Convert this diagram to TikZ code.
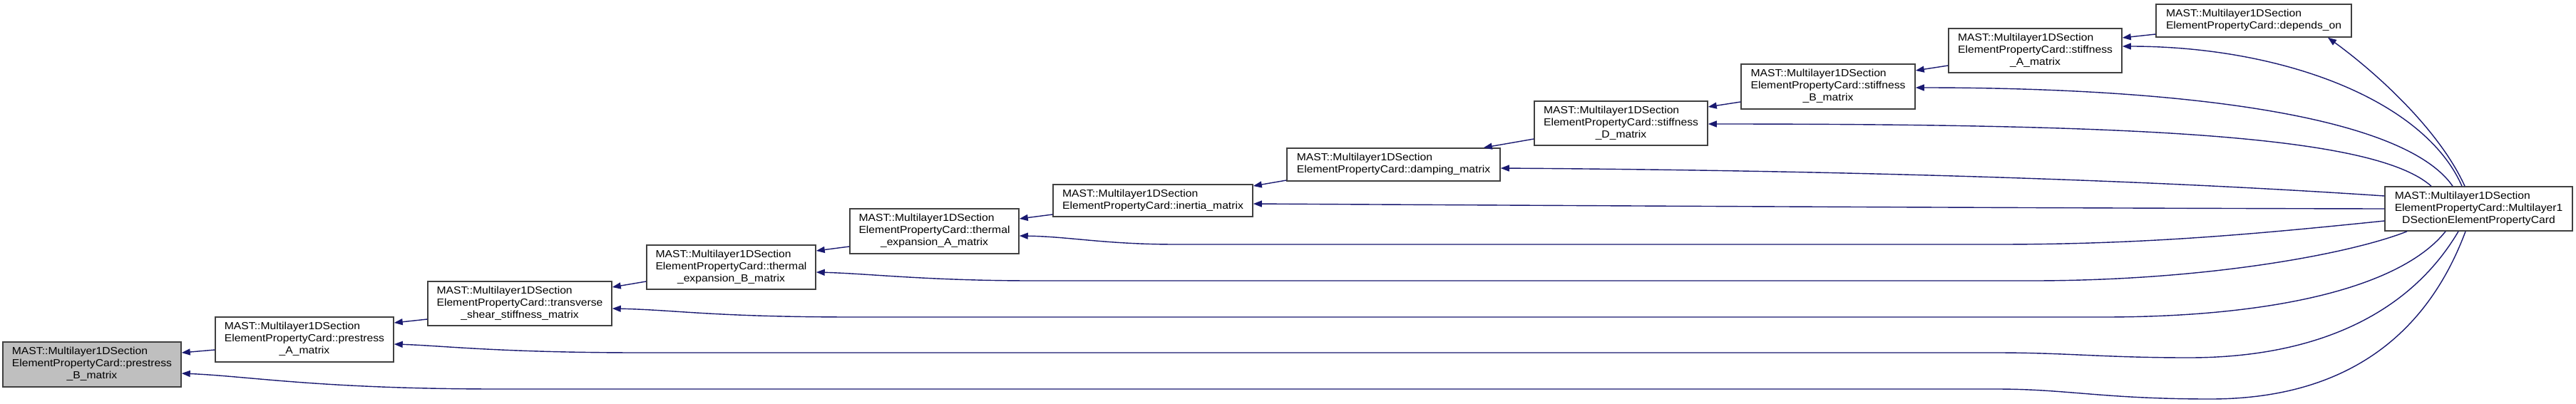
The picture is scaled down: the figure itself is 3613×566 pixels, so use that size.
\documentclass[tikz,border=0pt]{standalone}
\usepackage{fontspec}
\setmainfont{Liberation Sans}[FakeStretch=1.09]
\usetikzlibrary{arrows.meta,calc}
\definecolor{edgeblue}{HTML}{191970}
\definecolor{nodegray}{HTML}{BFBFBF}
\newcommand{\Lthree}[3]{\begin{tabular}{@{}l@{}}#1\\#2\\\multicolumn{1}{@{}c@{}}{#3}\end{tabular}}
\newcommand{\Ltwo}[2]{\begin{tabular}{@{}l@{}}#1\\#2\end{tabular}}
\begin{document}
\begin{tikzpicture}[x=1pt,y=-1pt,
  font=\fontsize{14.4}{17}\selectfont,
  box/.style={draw=black!75, line width=1.5pt, fill=white, inner sep=0pt},
  calledge/.style={draw=edgeblue, line width=1.4pt, -{Triangle[length=12pt,width=9pt]}}]
\useasboundingbox (0,0) rectangle (3613,566);

\node[box, fill=nodegray, minimum width=250pt, minimum height=63pt] (pB) at (129,511.5)
  {\Lthree{MAST::Multilayer1DSection}{ElementPropertyCard::prestress}{\_B\_matrix}};
\node[box, minimum width=250pt, minimum height=63pt] (pA) at (427,476.5)
  {\Lthree{MAST::Multilayer1DSection}{ElementPropertyCard::prestress}{\_A\_matrix}};
\node[box, minimum width=258pt, minimum height=62pt] (tr) at (729,426)
  {\Lthree{MAST::Multilayer1DSection}{ElementPropertyCard::transverse}{\_shear\_stiffness\_matrix}};
\node[box, minimum width=237pt, minimum height=62pt] (tB) at (1025.5,375)
  {\Lthree{MAST::Multilayer1DSection}{ElementPropertyCard::thermal}{\_expansion\_B\_matrix}};
\node[box, minimum width=237pt, minimum height=63pt] (tA) at (1310.5,324.5)
  {\Lthree{MAST::Multilayer1DSection}{ElementPropertyCard::thermal}{\_expansion\_A\_matrix}};
\node[box, minimum width=280pt, minimum height=45pt] (in) at (1617,281.5)
  {\Ltwo{MAST::Multilayer1DSection}{ElementPropertyCard::inertia\_matrix}};
\node[box, minimum width=299pt, minimum height=46pt] (da) at (1954.5,231)
  {\Ltwo{MAST::Multilayer1DSection}{ElementPropertyCard::damping\_matrix}};
\node[box, minimum width=243pt, minimum height=62pt] (sD) at (2273.5,173)
  {\Lthree{MAST::Multilayer1DSection}{ElementPropertyCard::stiffness}{\_D\_matrix}};
\node[box, minimum width=244pt, minimum height=63pt] (sB) at (2564,121.5)
  {\Lthree{MAST::Multilayer1DSection}{ElementPropertyCard::stiffness}{\_B\_matrix}};
\node[box, minimum width=243pt, minimum height=62pt] (sA) at (2854.5,71)
  {\Lthree{MAST::Multilayer1DSection}{ElementPropertyCard::stiffness}{\_A\_matrix}};
\node[box, minimum width=274pt, minimum height=46pt] (dep) at (3161,29)
  {\Ltwo{MAST::Multilayer1DSection}{ElementPropertyCard::depends\_on}};
\node[box, minimum width=263pt, minimum height=62pt] (ML) at (3476.5,293)
  {\Lthree{MAST::Multilayer1DSection}{ElementPropertyCard::Multilayer1}{DSectionElementPropertyCard}};

% chain edges
\draw[calledge] ($(pA.west)+(0,14.5)$) -- ($(pB.east)+(0,-16.5)$);
\draw[calledge] ($(tr.west)+(0,22)$) -- ($(pA.east)+(0,-23.5)$);
\draw[calledge] ($(tB.west)+(0,20)$) -- ($(tr.east)+(0,-23)$);
\draw[calledge] ($(tA.west)+(0,21.5)$) -- ($(tB.east)+(0,-23)$);
\draw[calledge] ($(in.west)+(0,19.5)$) -- ($(tA.east)+(0,-17.5)$);
\draw[calledge] ($(da.west)+(0,22)$) -- ($(in.east)+(0,-20.5)$);
\draw[calledge] ($(sD.west)+(0,22)$) -- ($(da.north east)+(-24,0)$);
\draw[calledge] ($(sB.west)+(0,21.5)$) -- ($(sD.east)+(0,-23)$);
\draw[calledge] ($(sA.west)+(0,21)$) -- ($(sB.east)+(0,-22.5)$);
\draw[calledge] ($(dep.west)+(0,19)$) -- ($(sA.east)+(0,-18)$);

% edges from the constructor
\draw[calledge] ($(ML.north)+(-19.5,0)$) .. controls (3420,180) and (3330,100) .. ($(dep.south)+(104,0)$);
\draw[calledge] ($(ML.north)+(-23.5,0)$) .. controls (3400,140) and (3200,65) .. ($(sA.east)+(0,-6)$);
\draw[calledge] ($(ML.north)+(-36.5,0)$) .. controls (3370,160) and (3050,123) .. ($(sB.east)+(0,1.5)$);
\draw[calledge] ($(ML.north)+(-66.5,0)$) .. controls (3330,190) and (3000,174) .. ($(sD.east)+(0,1)$);
\draw[calledge] ($(ML.west)+(0,-18)$) .. controls (2900,245) and (2400,238) .. ($(da.east)+(0,5)$);
\draw[calledge] (ML.west) .. controls (2800,292) and (2100,288) .. ($(in.east)+(0,4.5)$);
\draw[calledge] ($(ML.west)+(0,17)$) .. controls (3150,330) and (3000,343) .. (2800,343)
  -- (1650,343) .. controls (1550,343) and (1500,332) .. ($(tA.east)+(0,6.5)$);
\draw[calledge] ($(ML.south)+(-100.5,0)$) .. controls (3300,355) and (3100,394) .. (2850,394)
  -- (1450,394) .. controls (1300,394) and (1220,384) .. ($(tB.east)+(0,7)$);
\draw[calledge] ($(ML.south)+(-46.5,0)$) .. controls (3370,400) and (3200,445) .. (2950,445)
  -- (1200,445) .. controls (1000,445) and (950,435) .. ($(tr.east)+(0,7)$);
\draw[calledge] ($(ML.south)+(-28.5,0)$) .. controls (3380,440) and (3250,502) .. (3070,502)
  .. controls (2950,502) and (2900,495) .. (2800,495)
  -- (900,495) .. controls (700,495) and (620,485) .. ($(pA.east)+(0,6.5)$);
\draw[calledge] ($(ML.south)+(-18.5,0)$) .. controls (3400,480) and (3280,560) .. (3100,560)
  .. controls (2950,560) and (2900,546) .. (2800,546)
  -- (700,546) .. controls (450,546) and (350,528) .. ($(pB.east)+(0,12.5)$);
\end{tikzpicture}
\end{document}
